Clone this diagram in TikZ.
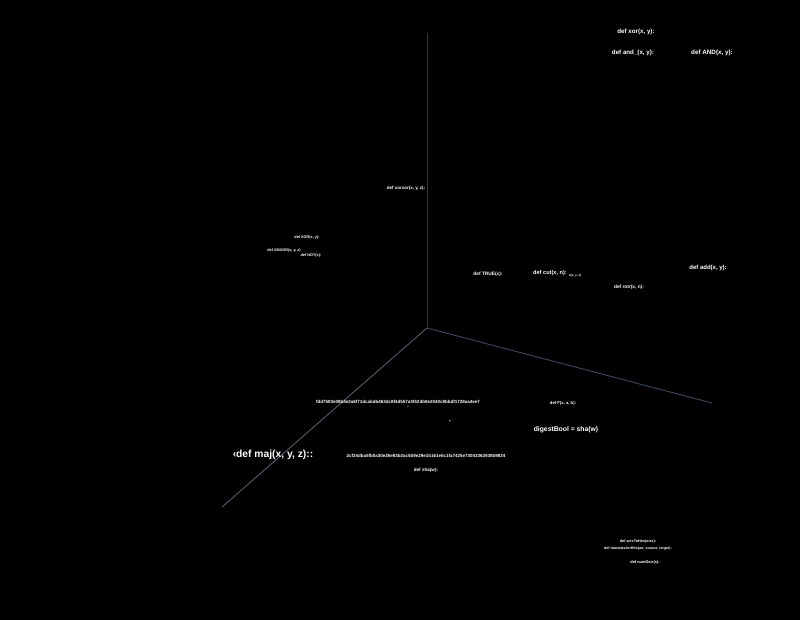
\documentclass[tikz,border=0pt]{standalone}
\usepackage{fontspec}
\setmainfont{Liberation Sans}
\begin{document}
\begin{tikzpicture}[x=1pt,y=-1pt,
  lbl/.style={text=white,font=\bfseries,inner sep=0pt,anchor=center},
  axv/.style={draw=axvcol,line width=0.9pt},
  axr/.style={draw=axrcol,line width=0.9pt},
  axl/.style={draw=axlcol,line width=0.9pt}]
\definecolor{axvcol}{HTML}{3B2F4E}
\definecolor{axrcol}{HTML}{3A4A60}
\definecolor{axlcol}{HTML}{555B68}
\fill[black] (0,0) rectangle (800,620);
\useasboundingbox (0,0) rectangle (800,620);
% axes
\coordinate (o) at (427,328);
\coordinate (top) at (427,33);
\coordinate (right) at (712,403);
\coordinate (left) at (222,507);
\draw[axv] (o) -- (top);
\draw[axr] (o) -- (right);
\draw[axl] (o) -- (left);
% labels
\node[lbl,font=\bfseries\fontsize{6.2}{7}\selectfont] (xor) at (636,32) {def xor(x, y):};
\node[lbl,font=\bfseries\fontsize{6.2}{7}\selectfont] (and) at (633,53) {def and\_(x, y):};
\node[lbl,font=\bfseries\fontsize{6.3}{7}\selectfont] (AND) at (712,53) {def AND(x, y):};
\node[lbl,font=\bfseries\fontsize{4.5}{5}\selectfont] (xorxor) at (406,188) {def xorxor(x, y, z):};
\node[lbl,font=\bfseries\fontsize{3.8}{4}\selectfont] (XOR) at (307,238) {def XOR(x, y):};
\node[lbl,font=\bfseries\fontsize{3.8}{4}\selectfont] (XMXOR) at (284,251) {def XMXOR(x, y, z)};
\node[lbl,font=\bfseries\fontsize{3.8}{4}\selectfont] (NOT) at (311,256) {def NOT(x):};
\node[lbl,font=\bfseries\fontsize{4.8}{5}\selectfont] (TRUE) at (488,274) {def TRUE(x):};
\node[lbl,font=\bfseries\fontsize{5.6}{6}\selectfont] (cut) at (550,273) {def cut(x, n):};
\node[lbl,font=\bfseries\fontsize{3.2}{4}\selectfont] (cutsub) at (575,276) {x(x, y, z)};
\node[lbl,font=\bfseries\fontsize{6}{7}\selectfont] (add) at (708,268) {def add(x, y):};
\node[lbl,font=\bfseries\fontsize{4.8}{5}\selectfont] (rotr) at (629,287) {def rotr(x, n):};
\node[lbl,font=\bfseries\fontsize{4.5}{5}\selectfont] (h1) at (398,402) {fdd7583e08b4e2a6f71dcabdb463dc8f4d557a3f42db9e2040c8bbdf1728aa4ee7};
\node[lbl,font=\bfseries\fontsize{2.5}{3}\selectfont] (h1x) at (408,407) {x};
\node[lbl,font=\bfseries\fontsize{3}{3}\selectfont] (mark) at (450,421) {T};
\node[lbl,font=\bfseries\fontsize{4.2}{5}\selectfont] (F) at (563,403) {def F(x, a, b):};
\node[lbl,font=\bfseries\fontsize{6.8}{8}\selectfont] (digest) at (566,430) {digestBool = sha(w)};
\node[lbl,font=\bfseries\fontsize{10.3}{12}\selectfont] (maj) at (273,455) {‹def maj(x, y, z)::};
\node[lbl,font=\bfseries\fontsize{4.5}{5}\selectfont] (h2) at (426,456) {2cf24dba5fb0a30e26e83b2ac5b9e29e1b161e5c1fa7425e73043362938b9824};
\node[lbl,font=\bfseries\fontsize{4.6}{5}\selectfont] (sha) at (426,470) {def sha(w):};
\node[lbl,font=\bfseries\fontsize{3.8}{4}\selectfont] (arrs) at (638,542) {def arrsToHex(arrs):};
\node[lbl,font=\bfseries\fontsize{3.6}{4}\selectfont] (trans) at (638,549) {def translateArrBits(arr, source, target):};
\node[lbl,font=\bfseries\fontsize{3.9}{4}\selectfont] (num) at (645,562) {def numDarr(s):};
\end{tikzpicture}
\end{document}
